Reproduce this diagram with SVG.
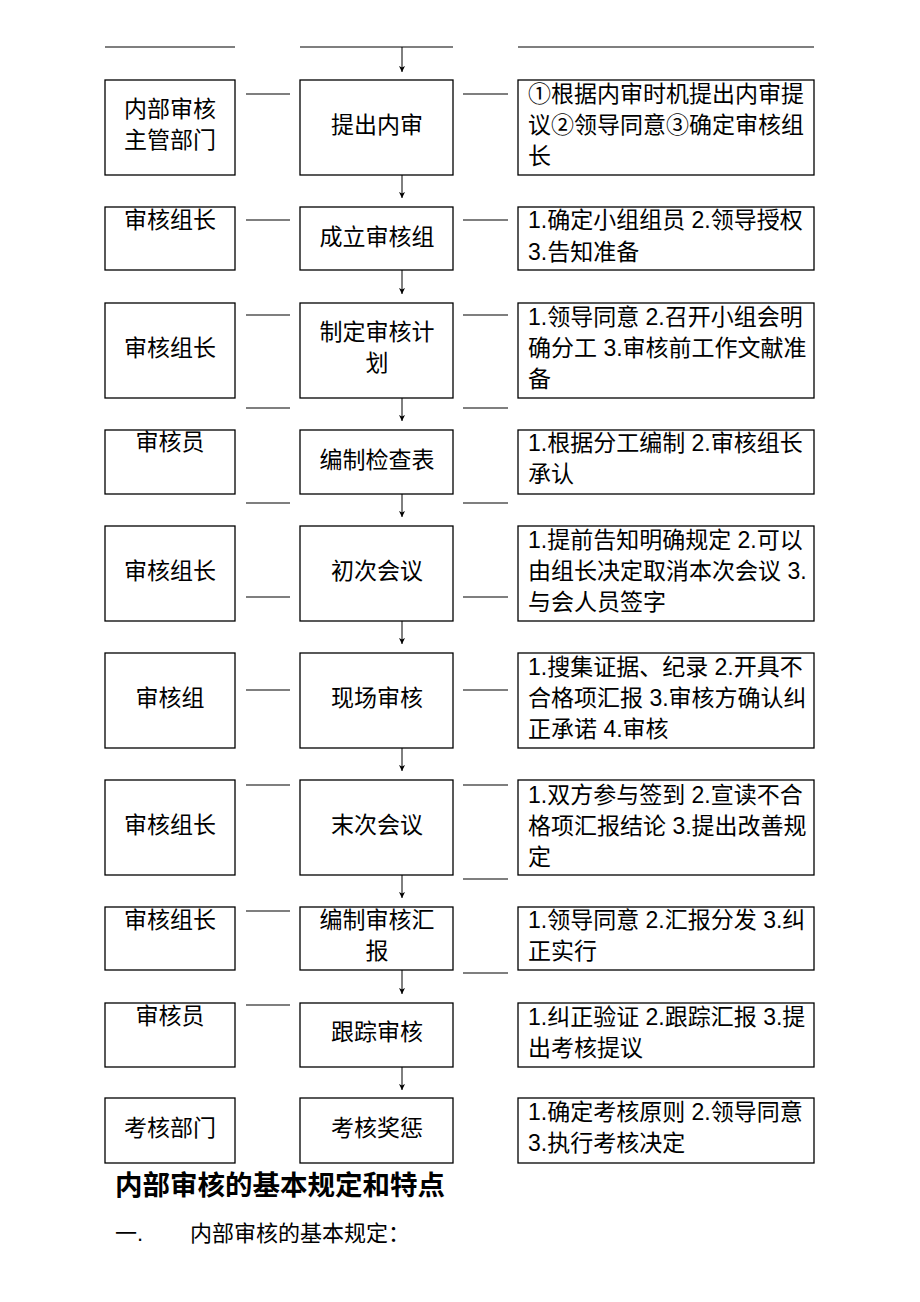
<svg xmlns="http://www.w3.org/2000/svg" width="920" height="1302" viewBox="0 0 920 1302">
<defs>
<marker id="ah" markerWidth="8" markerHeight="8" refX="6" refY="3.5" orient="auto" markerUnits="userSpaceOnUse">
<path d="M0,0.5 L6,3.5 L0,6.5 L1.5,3.5 Z" fill="#000"/>
</marker>
<style>
.bx{fill:#fff;stroke:#000;stroke-width:1.3}
.ln{stroke:#000;stroke-width:1.2;fill:none}
.ar{stroke:#000;stroke-width:1;fill:none;marker-end:url(#ah)}
text{font-family:"Liberation Sans","Noto Sans CJK SC",sans-serif;font-size:23px;fill:#000}
.c{text-anchor:middle}
.h{font-size:27.5px;font-weight:bold}
.s{font-size:22px}
</style>
</defs>
<rect width="920" height="1302" fill="#fff"/>
<g id="connectors">
<line class="ln" x1="105" y1="47" x2="235" y2="47"/>
<line class="ln" x1="300" y1="47" x2="453" y2="47"/>
<line class="ln" x1="518" y1="47" x2="814" y2="47"/>
<line class="ar" x1="402" y1="47" x2="402" y2="72"/>
<line class="ln" x1="246" y1="94" x2="290" y2="94"/>
<line class="ln" x1="463" y1="94" x2="508" y2="94"/>
<line class="ar" x1="402" y1="175" x2="402" y2="198"/>
<line class="ln" x1="246" y1="220" x2="290" y2="220"/>
<line class="ln" x1="463" y1="220" x2="508" y2="220"/>
<line class="ar" x1="402" y1="270" x2="402" y2="294"/>
<line class="ln" x1="246" y1="315" x2="290" y2="315"/>
<line class="ln" x1="463" y1="315" x2="508" y2="315"/>
<line class="ln" x1="246" y1="408" x2="290" y2="408"/>
<line class="ln" x1="463" y1="408" x2="508" y2="408"/>
<line class="ar" x1="402" y1="398" x2="402" y2="421"/>
<line class="ln" x1="246" y1="503" x2="290" y2="503"/>
<line class="ln" x1="463" y1="503" x2="508" y2="503"/>
<line class="ar" x1="402" y1="494" x2="402" y2="517"/>
<line class="ln" x1="246" y1="597" x2="290" y2="597"/>
<line class="ln" x1="463" y1="597" x2="508" y2="597"/>
<line class="ar" x1="402" y1="621" x2="402" y2="644"/>
<line class="ln" x1="246" y1="690" x2="290" y2="690"/>
<line class="ln" x1="463" y1="690" x2="508" y2="690"/>
<line class="ar" x1="402" y1="748" x2="402" y2="771"/>
<line class="ln" x1="246" y1="785" x2="290" y2="785"/>
<line class="ln" x1="463" y1="785" x2="508" y2="785"/>
<line class="ln" x1="463" y1="879" x2="508" y2="879"/>
<line class="ar" x1="402" y1="875" x2="402" y2="898"/>
<line class="ln" x1="246" y1="911" x2="290" y2="911"/>
<line class="ln" x1="463" y1="973" x2="508" y2="973"/>
<line class="ar" x1="402" y1="970" x2="402" y2="994"/>
<line class="ln" x1="246" y1="1005" x2="290" y2="1005"/>
<line class="ar" x1="402" y1="1067" x2="402" y2="1090"/>
</g>
<g id="r1">
<g id="n1a"><rect class="bx" x="105" y="80" width="130" height="95"/><text class="c" x="170" y="117">内部审核</text><text class="c" x="170" y="148">主管部门</text></g>
<g id="n1b"><rect class="bx" x="300" y="80" width="153" height="95"/><text class="c" x="377" y="133">提出内审</text></g>
<g id="n1c"><rect class="bx" x="518" y="80" width="296" height="95"/><text x="528" y="102">①根据内审时机提出内审提</text><text x="528" y="133">议②领导同意③确定审核组</text><text x="528" y="164">长</text></g>
</g>
<g id="r2">
<g id="n2a"><rect class="bx" x="105" y="207" width="130" height="63"/><text class="c" x="170" y="228">审核组长</text></g>
<g id="n2b"><rect class="bx" x="300" y="207" width="153" height="63"/><text class="c" x="377" y="245">成立审核组</text></g>
<g id="n2c"><rect class="bx" x="518" y="207" width="296" height="63"/><text x="528" y="228">1.确定小组组员 2.领导授权</text><text x="528" y="260">3.告知准备</text></g>
</g>
<g id="r3">
<g id="n3a"><rect class="bx" x="105" y="303" width="130" height="95"/><text class="c" x="170" y="356">审核组长</text></g>
<g id="n3b"><rect class="bx" x="300" y="303" width="153" height="95"/><text class="c" x="377" y="340">制定审核计</text><text class="c" x="377" y="371">划</text></g>
<g id="n3c"><rect class="bx" x="518" y="303" width="296" height="95"/><text x="528" y="325">1.领导同意 2.召开小组会明</text><text x="528" y="356">确分工 3.审核前工作文献准</text><text x="528" y="387">备</text></g>
</g>
<g id="r4">
<g id="n4a"><rect class="bx" x="105" y="430" width="130" height="64"/><text class="c" x="170" y="450">审核员</text></g>
<g id="n4b"><rect class="bx" x="300" y="430" width="153" height="64"/><text class="c" x="377" y="468">编制检查表</text></g>
<g id="n4c"><rect class="bx" x="518" y="430" width="296" height="64"/><text x="528" y="451">1.根据分工编制 2.审核组长</text><text x="528" y="482">承认</text></g>
</g>
<g id="r5">
<g id="n5a"><rect class="bx" x="105" y="526" width="130" height="95"/><text class="c" x="170" y="579">审核组长</text></g>
<g id="n5b"><rect class="bx" x="300" y="526" width="153" height="95"/><text class="c" x="377" y="579">初次会议</text></g>
<g id="n5c"><rect class="bx" x="518" y="526" width="296" height="95"/><text x="528" y="548">1.提前告知明确规定 2.可以</text><text x="528" y="579">由组长决定取消本次会议 3.</text><text x="528" y="610">与会人员签字</text></g>
</g>
<g id="r6">
<g id="n6a"><rect class="bx" x="105" y="653" width="130" height="95"/><text class="c" x="170" y="706">审核组</text></g>
<g id="n6b"><rect class="bx" x="300" y="653" width="153" height="95"/><text class="c" x="377" y="706">现场审核</text></g>
<g id="n6c"><rect class="bx" x="518" y="653" width="296" height="95"/><text x="528" y="675">1.搜集证据、纪录 2.开具不</text><text x="528" y="706">合格项汇报 3.审核方确认纠</text><text x="528" y="737">正承诺 4.审核</text></g>
</g>
<g id="r7">
<g id="n7a"><rect class="bx" x="105" y="780" width="130" height="95"/><text class="c" x="170" y="833">审核组长</text></g>
<g id="n7b"><rect class="bx" x="300" y="780" width="153" height="95"/><text class="c" x="377" y="833">末次会议</text></g>
<g id="n7c"><rect class="bx" x="518" y="780" width="296" height="95"/><text x="528" y="803">1.双方参与签到 2.宣读不合</text><text x="528" y="834">格项汇报结论 3.提出改善规</text><text x="528" y="865">定</text></g>
</g>
<g id="r8">
<g id="n8a"><rect class="bx" x="105" y="907" width="130" height="63"/><text class="c" x="170" y="928">审核组长</text></g>
<g id="n8b"><rect class="bx" x="300" y="907" width="153" height="63"/><text class="c" x="377" y="928">编制审核汇</text><text class="c" x="377" y="959">报</text></g>
<g id="n8c"><rect class="bx" x="518" y="907" width="296" height="63"/><text x="528" y="928">1.领导同意 2.汇报分发 3.纠</text><text x="528" y="959">正实行</text></g>
</g>
<g id="r9">
<g id="n9a"><rect class="bx" x="105" y="1003" width="130" height="64"/><text class="c" x="170" y="1024">审核员</text></g>
<g id="n9b"><rect class="bx" x="300" y="1003" width="153" height="64"/><text class="c" x="377" y="1040">跟踪审核</text></g>
<g id="n9c"><rect class="bx" x="518" y="1003" width="296" height="64"/><text x="528" y="1025">1.纠正验证 2.跟踪汇报 3.提</text><text x="528" y="1056">出考核提议</text></g>
</g>
<g id="r10">
<g id="n10a"><rect class="bx" x="105" y="1098" width="130" height="65"/><text class="c" x="170" y="1136">考核部门</text></g>
<g id="n10b"><rect class="bx" x="300" y="1098" width="153" height="65"/><text class="c" x="377" y="1136">考核奖惩</text></g>
<g id="n10c"><rect class="bx" x="518" y="1098" width="296" height="65"/><text x="528" y="1120">1.确定考核原则 2.领导同意</text><text x="528" y="1151">3.执行考核决定</text></g>
</g>
<text class="h" x="115" y="1195">内部审核的基本规定和特点</text>
<text class="s" x="115" y="1241">一.</text>
<text class="s" x="190" y="1241">内部审核的基本规定：</text>
</svg>
